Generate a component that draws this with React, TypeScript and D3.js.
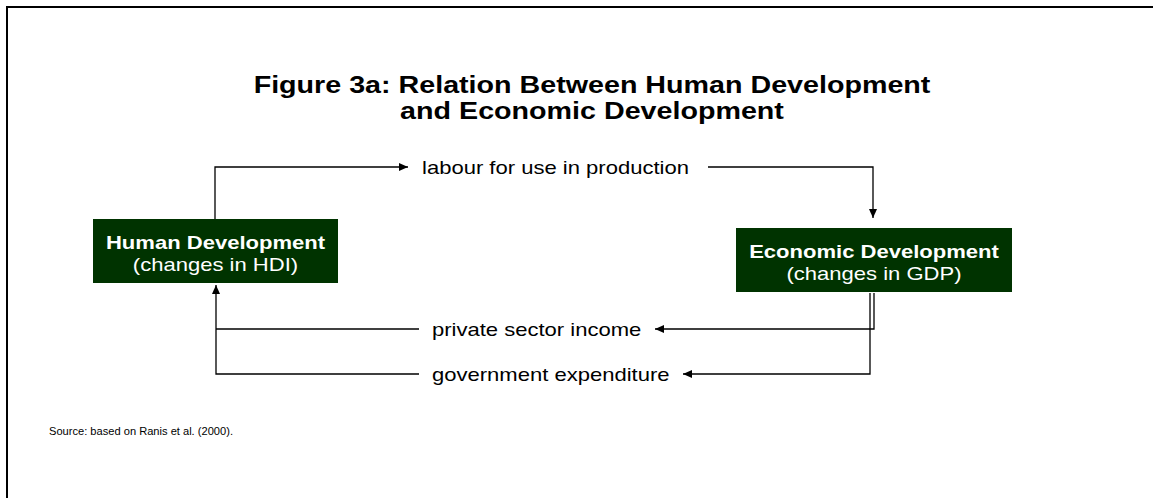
import React from 'react';
import * as d3 from 'd3';

const width = 1153;
const height = 498;

const titleLines = ['Figure 3a: Relation Between Human Development', 'and Economic Development'];
const nodeNames = ['Human Development', 'Economic Development'];
const nodeNotes = ['(changes in HDI)', '(changes in GDP)'];
const flowLabels = ['labour for use in production', 'private sector income', 'government expenditure'];
const sourceNote = 'Source: based on Ranis et al. (2000).';

const font = "'Liberation Sans', Arial, Helvetica, sans-serif";
const boxFill = '#003300';
// the picture is a bit wider than tall, so glyphs get stretched sideways
const stretch = 1.16;

// layout of the two boxes
const boxes = [
  { x: 93, y: 219, w: 245, h: 64 },
  { x: 736, y: 228, w: 276, h: 64 },
];

type Pt = [number, number];
const line = d3.line<Pt>();

// connector routes: [points, hasArrow]
const routes: [Pt[], boolean][] = [
  [[[215, 219], [215, 167], [408, 167]], true],
  [[[708, 167], [873, 167], [873, 218]], true],
  [[[874, 293], [874, 329], [655, 329]], true],
  [[[419, 329], [216, 329]], false],
  [[[870, 293], [870, 374], [683, 374]], true],
  [[[419, 374], [216, 374], [216, 285]], true],
];

const labelPos: Pt[] = [
  [422, 174],
  [432, 336],
  [432, 381],
];

type TProps = {
  x: number;
  y: number;
  size: number;
  sx?: number;
  anchor?: 'start' | 'middle' | 'end';
  bold?: boolean;
  fill?: string;
  children: string;
};

function SText({ x, y, size, sx = stretch, anchor = 'start', bold, fill = '#000', children }: TProps) {
  return (
    <text
      transform={`translate(${x},${y}) scale(${sx},1)`}
      textAnchor={anchor}
      fontSize={size}
      fontWeight={bold ? 'bold' : 'normal'}
      fill={fill}
    >
      {children}
    </text>
  );
}

function App() {
  return (
    <svg
      width={width}
      height={height}
      style={{ position: 'absolute', left: 0, top: 0, background: '#fff' }}
      fontFamily={font}
    >
      <defs>
        <marker
          id="head"
          viewBox="0 0 9 8"
          refX={9}
          refY={4}
          markerWidth={9}
          markerHeight={8}
          markerUnits="userSpaceOnUse"
          orient="auto"
        >
          <path d="M0,0L9,4L0,8Z" fill="#000" />
        </marker>
      </defs>

      <rect x={7} y={7} width={1300} height={700} fill="none" stroke="#000" strokeWidth={2} />

      {titleLines.map((t, i) => (
        <SText key={t} x={592} y={93 + i * 26} size={24.5} sx={1.17} anchor="middle" bold>
          {t}
        </SText>
      ))}

      {routes.map(([pts, arrow], i) => (
        <path
          key={i}
          d={line(pts) ?? ''}
          fill="none"
          stroke="#000"
          strokeWidth={1.3}
          markerEnd={arrow ? 'url(#head)' : undefined}
        />
      ))}

      {boxes.map((b, i) => (
        <g key={nodeNames[i]}>
          <rect x={b.x} y={b.y} width={b.w} height={b.h} fill={boxFill} />
          <SText x={b.x + b.w / 2} y={b.y + 30} size={19} anchor="middle" bold fill="#fff">
            {nodeNames[i]}
          </SText>
          <SText x={b.x + b.w / 2} y={b.y + 52} size={19} anchor="middle" fill="#fff">
            {nodeNotes[i]}
          </SText>
        </g>
      ))}

      {flowLabels.map((t, i) => (
        <SText key={t} x={labelPos[i][0]} y={labelPos[i][1]} size={19}>
          {t}
        </SText>
      ))}

      <SText x={49} y={435} size={10.5} sx={1.06}>
        {sourceNote}
      </SText>
    </svg>
  );
}

export default App;
